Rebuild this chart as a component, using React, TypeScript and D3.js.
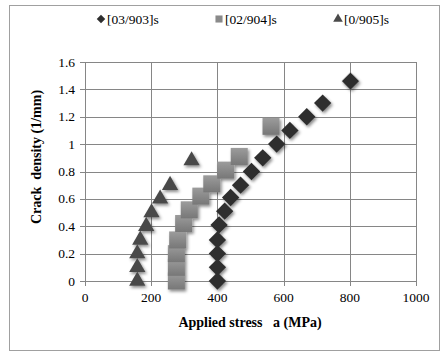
import { useEffect, useRef } from 'react';
import * as d3 from 'd3';

// series: [03/903]s (diamonds)
const diamondX = [400, 400, 400, 400, 405, 422, 440, 470, 503, 537, 579, 619, 670, 718, 802];
const diamondY = [0, 0.1, 0.2, 0.3, 0.41, 0.51, 0.61, 0.7, 0.8, 0.9, 1.0, 1.1, 1.2, 1.3, 1.46];

// series: [02/904]s (squares)
const squareX = [276, 276, 276, 280, 298, 315, 350, 383, 425, 466, 562];
const squareY = [0, 0.1, 0.2, 0.3, 0.42, 0.52, 0.62, 0.71, 0.81, 0.91, 1.13];

// series: [0/905]s (triangles)
const triX = [158, 158, 158, 167, 185, 201, 227, 257, 322];
const triY = [0, 0.1, 0.2, 0.3, 0.4, 0.5, 0.6, 0.7, 0.88];

const seriesNames = ['[03/903]s', '[02/904]s', '[0/905]s'];
const xTicks = [0, 200, 400, 600, 800, 1000];
const yTicks = [0, 0.2, 0.4, 0.6, 0.8, 1, 1.2, 1.4, 1.6];

const W = 444;
const H = 353;
const FONT = "'Liberation Serif', 'Times New Roman', Times, serif";

export default function App() {
  const svgRef = useRef<SVGSVGElement>(null);

  useEffect(() => {
    if (!svgRef.current) return;
    const svg = d3.select(svgRef.current);
    svg.selectAll('*').remove();

    const x = d3.scaleLinear().domain([0, 1000]).range([85, 416]);
    const y = d3.scaleLinear().domain([0, 1.6]).range([281, 62]);

    // defs: shadow + gradient for squares
    const defs = svg.append('defs');
    const f = defs.append('filter').attr('id', 'shadow')
      .attr('x', '-50%').attr('y', '-50%').attr('width', '200%').attr('height', '200%');
    f.append('feDropShadow')
      .attr('dx', 1.5).attr('dy', 2).attr('stdDeviation', 1.6)
      .attr('flood-color', '#000').attr('flood-opacity', 0.45);
    const g1 = defs.append('linearGradient').attr('id', 'sqGrad')
      .attr('x1', 0).attr('y1', 0).attr('x2', 0).attr('y2', 1);
    g1.append('stop').attr('offset', '0%').attr('stop-color', '#9c9c9c');
    g1.append('stop').attr('offset', '100%').attr('stop-color', '#777');

    // outer border
    svg.append('rect')
      .attr('x', 9.5).attr('y', 5.5).attr('width', 430).attr('height', 345)
      .attr('fill', '#fff').attr('stroke', '#a0a0a0').attr('stroke-width', 1);

    // gridlines
    const grid = svg.append('g').attr('stroke', '#868686').attr('stroke-width', 1);
    yTicks.forEach(t => {
      grid.append('line')
        .attr('x1', x(0) - 5).attr('x2', x(1000))
        .attr('y1', Math.round(y(t)) + 0.5).attr('y2', Math.round(y(t)) + 0.5);
    });
    xTicks.forEach(t => {
      grid.append('line')
        .attr('x1', Math.round(x(t)) + 0.5).attr('x2', Math.round(x(t)) + 0.5)
        .attr('y1', y(1.6)).attr('y2', y(0) + 5);
    });

    const txt = (sel: d3.Selection<SVGTextElement, unknown, null, undefined>) =>
      sel.style('font-family', FONT).style('font-size', '13.5px').attr('fill', '#000');

    // tick labels
    yTicks.forEach(t => {
      svg.append('text')
        .attr('x', 75).attr('y', y(t) + 4.5)
        .attr('text-anchor', 'end')
        .call(txt)
        .text(String(t));
    });
    xTicks.forEach(t => {
      svg.append('text')
        .attr('x', x(t)).attr('y', 302)
        .attr('text-anchor', 'middle')
        .call(txt)
        .text(String(t));
    });

    // axis titles
    svg.append('text')
      .attr('x', 250).attr('y', 327)
      .attr('text-anchor', 'middle')
      .call(txt)
      .style('font-size', '14px')
      .style('font-weight', 'bold')
      .style('white-space', 'pre')
      .text('Applied stress   a (MPa)');
    svg.append('text')
      .attr('transform', 'translate(41, 157) rotate(-90)')
      .attr('text-anchor', 'middle')
      .call(txt)
      .style('font-size', '14px')
      .style('font-weight', 'bold')
      .style('white-space', 'pre')
      .text('Crack  density (1/mm)');

    const diamond = d3.symbol().type(d3.symbolSquare).size(150);
    const square = d3.symbol().type(d3.symbolSquare).size(290);
    const tri = d3.symbol().type(d3.symbolTriangle).size(115);

    // markers
    const pts = svg.append('g').attr('filter', 'url(#shadow)');
    triX.forEach((v, i) => {
      pts.append('path')
        .attr('d', tri()!)
        .attr('transform', `translate(${x(v)},${y(triY[i])})`)
        .attr('fill', '#4a4a4a');
    });
    squareX.forEach((v, i) => {
      pts.append('path')
        .attr('d', square()!)
        .attr('transform', `translate(${x(v)},${y(squareY[i])})`)
        .attr('fill', 'url(#sqGrad)');
    });
    diamondX.forEach((v, i) => {
      pts.append('path')
        .attr('d', diamond()!)
        .attr('transform', `translate(${x(v)},${y(diamondY[i])}) rotate(45)`)
        .attr('fill', '#2e2e2e');
    });

    // legend
    const legend = [
      { sym: d3.symbol().type(d3.symbolSquare).size(36), rot: 45, fill: '#2e2e2e', mx: 101, tx: 107 },
      { sym: d3.symbol().type(d3.symbolSquare).size(50), rot: 0, fill: '#8a8a8a', mx: 219, tx: 225 },
      { sym: d3.symbol().type(d3.symbolTriangle).size(40), rot: 0, fill: '#4a4a4a', mx: 338, tx: 344 },
    ];
    legend.forEach((l, i) => {
      svg.append('path')
        .attr('d', l.sym()!)
        .attr('transform', `translate(${l.mx},19) rotate(${l.rot})`)
        .attr('fill', l.fill);
      svg.append('text')
        .attr('x', l.tx).attr('y', 23.5)
        .call(txt)
        .text(seriesNames[i]);
    });
  }, []);

  return (
    <svg
      ref={svgRef}
      width={W}
      height={H}
      style={{ position: 'absolute', left: 0, top: 0, display: 'block' }}
    />
  );
}
